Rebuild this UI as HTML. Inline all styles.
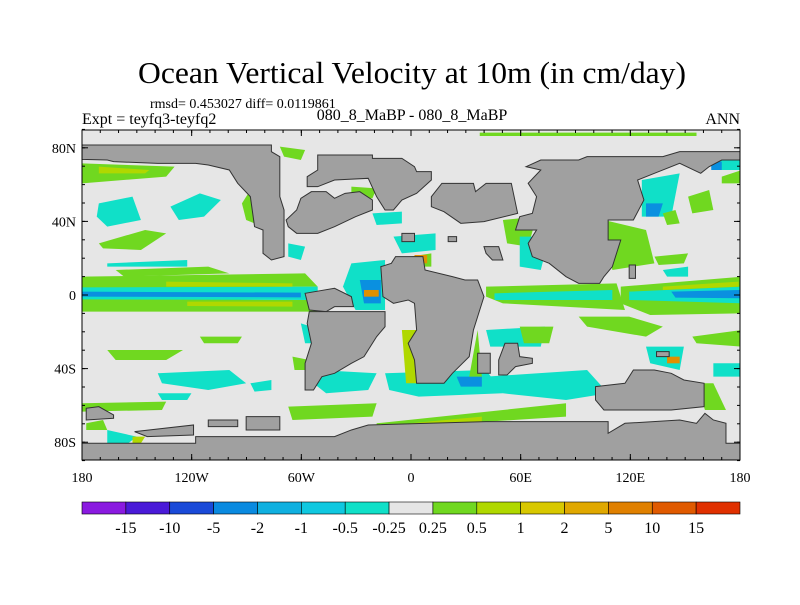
<!DOCTYPE html>
<html><head><meta charset="utf-8"><style>
body{margin:0;background:#fff;}
svg text{font-family:"Liberation Serif",serif;fill:#000;}
</style></head><body>
<svg id="chart" width="800" height="600" viewBox="0 0 800 600" xmlns="http://www.w3.org/2000/svg">
<text x="412" y="83" font-size="31" text-anchor="middle" textLength="548" lengthAdjust="spacingAndGlyphs">Ocean Vertical Velocity at 10m (in cm/day)</text>
<text x="150" y="108" font-size="14">rmsd= 0.453027 diff= 0.0119861</text>
<text x="82" y="124" font-size="16">Expt = teyfq3-teyfq2</text>
<text x="412" y="120" font-size="16" text-anchor="middle">080_8_MaBP - 080_8_MaBP</text>
<text x="740" y="124" font-size="16" text-anchor="end">ANN</text>
<clipPath id="pc"><rect x="82" y="130" width="658" height="330"/></clipPath>
<rect x="82" y="130" width="658" height="330" fill="#e6e6e6"/>
<g clip-path="url(#pc)">
<g transform="translate(82,130) scale(0.4209,0.3333)" id="mapg">
<g id="blobs"></g>
<g id="land"></g>
</g>
</g>
<rect x="82" y="130" width="658" height="330" fill="none" stroke="#000" stroke-width="1"/>
<g id="axes"></g>
<g id="cbar"></g>
</svg>
<script>
const cbColors=["#8a1ae0","#4a1ad8","#1a4ad8","#0a8ae0","#10b0e0","#10c8e0","#10e0c8","#e6e6e6","#70d820","#b0d800","#d8c800","#e0a800","#e08000","#e05a00","#e03000"];
const cbLabels=["-15","-10","-5","-2","-1","-0.5","-0.25","0.25","0.5","1","2","5","10","15"];
const lonTicks=[-180,-120,-60,0,60,120,180];
const lonLabels=["180","120W","60W","0","60E","120E","180"];
const latTicks=[80,40,0,-40,-80];
const latLabels=["80N","40N","0","40S","80S"];
const NS="http://www.w3.org/2000/svg";
function mk(t,a,p){const e=document.createElementNS(NS,t);for(const k in a)e.setAttribute(k,a[k]);p.appendChild(e);return e;}
const xLon=l=>82+(l+180)*658/360, yLat=l=>295-l*1.84;
const ax=document.getElementById('axes');
lonTicks.forEach((l,i)=>{
 const t=mk('line',{x1:xLon(l),x2:xLon(l),y1:460,y2:454,stroke:'#000'},ax);
 
 
 const t2=mk('line',{x1:xLon(l),x2:xLon(l),y1:130,y2:136,stroke:'#000'},ax);
 
 
 const tx=mk('text',{x:xLon(l),y:482,'font-size':14,'text-anchor':'middle'},ax);tx.textContent=lonLabels[i];
 
 
});
for(let l=-170;l<=170;l+=10){const t=mk('line',{x1:xLon(l),x2:xLon(l),y1:460,y2:457,stroke:'#000'},ax);
 
 
 const t2=mk('line',{x1:xLon(l),x2:xLon(l),y1:130,y2:133,stroke:'#000'},ax);
 
 }
latTicks.forEach((l,i)=>{
 const t=mk('line',{x1:82,x2:88,y1:yLat(l),y2:yLat(l),stroke:'#000'},ax);
 
 
 const t2=mk('line',{x1:734,x2:740,y1:yLat(l),y2:yLat(l),stroke:'#000'},ax);
 
 
 const tx=mk('text',{x:76,y:yLat(l)+5,'font-size':14,'text-anchor':'end'},ax);tx.textContent=latLabels[i];
 
 
});
for(let l=-90;l<=90;l+=10){const t=mk('line',{x1:82,x2:85,y1:yLat(l),y2:yLat(l),stroke:'#000'},ax);
 
 
 const t2=mk('line',{x1:737,x2:740,y1:yLat(l),y2:yLat(l),stroke:'#000'},ax);
 
 }
// colorbar
const cb=document.getElementById('cbar');const cbx=82,cbw=658/cbColors.length;
cbColors.forEach((c,i)=>{const r=mk('rect',{x:cbx+i*cbw,y:502,width:cbw,height:12,fill:c,stroke:'#000','stroke-width':0.6},cb);
 
 });
cbLabels.forEach((s,i)=>{const t=mk('text',{x:cbx+(i+1)*cbw,y:533,'font-size':16,'text-anchor':'middle'},cb);t.textContent=s;
 
 });
// blobs (zoom-space coordinates)
const G="#70d820",Y="#b0d800",YY="#d8c000",O="#e09000",C="#10e0c8",C2="#10c8e0",B="#0a90e0";
const blobs=[
[G,"M0,440 L530,430 L560,470 L0,475Z"],[G,"M0,505 L540,510 L560,545 L0,545Z"],[C,"M0,472 L560,470 L560,510 L0,508Z"],[B,"M0,485 L520,488 L520,502 L0,500Z"],
[Y,"M200,455 L500,460 L500,470 L200,470Z"],[Y,"M250,515 L500,515 L500,530 L250,528Z"],
[G,"M1280,470 L1568,440 L1568,550 L1350,555 L1280,520Z"],[C,"M1300,485 L1568,470 L1568,520 L1300,510Z"],[B,"M1400,485 L1568,480 L1568,505 L1410,503Z"],[Y,"M1380,470 L1560,455 L1560,470 L1380,480Z"],
[G,"M960,470 L1270,460 L1290,540 L1000,520 L960,500Z"],[C,"M980,490 L1260,480 L1260,510 L980,510Z"],
[G,"M0,100 L220,110 L200,140 L0,160Z"],[Y,"M40,110 L160,120 L150,130 L40,130Z"],
[C,"M40,220 L120,200 L140,270 L60,290 L35,260Z"],[C,"M210,230 L280,190 L330,210 L290,260 L230,270Z"],
[G,"M40,340 L150,300 L200,310 L140,360 L50,355Z"],[G,"M80,420 L300,410 L350,430 L100,440Z"],[C,"M60,400 L250,390 L250,410 L60,410Z"],
[C,"M180,730 L350,720 L390,760 L300,780 L190,760Z"],[C,"M400,760 L450,750 L450,780 L410,785Z"],[G,"M60,660 L240,660 L200,690 L80,690Z"],[G,"M280,620 L380,620 L370,640 L290,640Z"],
[C,"M560,720 L700,730 L680,780 L580,790 L550,760Z"],[C,"M720,730 L960,720 L1000,790 L800,800 L730,780Z"],[B,"M890,740 L950,740 L950,770 L900,770Z"],
[C,"M960,740 L1200,720 L1250,790 L1150,810 L1000,790Z"],[G,"M700,880 L1000,840 L1150,820 L1150,860 L900,880 L700,890Z"],[Y,"M780,880 L950,860 L950,875 L780,890Z"],
[G,"M1180,560 L1300,560 L1380,590 L1340,620 L1200,590Z"],[G,"M1450,620 L1568,600 L1568,650 L1460,640Z"],[C,"M1340,650 L1430,650 L1420,720 L1350,700Z"],[O,"M1390,680 L1420,680 L1420,700 L1390,700Z"],
[G,"M1460,760 L1500,760 L1530,840 L1480,840Z"],[C,"M1500,700 L1568,700 L1568,740 L1500,740Z"],
[C,"M640,400 L720,390 L720,540 L650,540 L620,470Z"],[B,"M660,450 L710,450 L710,520 L670,520Z"],[O,"M670,480 L705,480 L705,500 L670,500Z"],
[G,"M780,380 L830,370 L830,410 L790,410Z"],[O,"M790,375 L820,375 L820,400 L790,400Z"],[C,"M740,320 L840,310 L840,360 L760,370Z"],
[G,"M920,740 L940,600 L950,740Z"],[Y,"M760,600 L800,600 L800,760 L770,760Z"],
[G,"M1000,270 L1080,260 L1060,350 L1010,340Z"],[C,"M1040,320 L1110,320 L1090,420 L1040,410Z"],
[G,"M1240,270 L1340,300 L1360,400 L1260,420Z"],[C,"M1330,150 L1420,130 L1400,260 L1330,260Z"],[B,"M1340,220 L1380,220 L1370,260 L1340,260Z"],[G,"M1380,250 L1410,240 L1420,280 L1390,285Z"],
[C,"M1490,90 L1568,85 L1568,120 L1500,120Z"],[B,"M1495,95 L1520,95 L1520,120 L1495,120Z"],[G,"M1520,140 L1568,120 L1568,160 L1520,160Z"],[G,"M945,8 L1460,8 L1460,18 L945,18Z"],
[G,"M400,180 L420,250 L410,280 L390,270 L380,220Z"],[G,"M470,50 L530,60 L520,90 L480,80Z"],[C,"M490,340 L530,350 L520,390 L490,380Z"],
[C,"M520,580 L545,590 L560,640 L530,640Z"],[G,"M500,680 L540,690 L530,720 L505,720Z"],
[C,"M60,900 L130,920 L110,940 L60,940Z"],[G,"M10,880 L50,870 L60,900 L10,900Z"],[Y,"M120,920 L150,920 L140,940 L120,940Z"],
[G,"M490,830 L700,820 L690,860 L500,870Z"],[G,"M0,820 L200,815 L190,840 L0,845Z"],[C,"M960,600 L1100,590 L1090,650 L970,650Z"],[G,"M1040,590 L1120,590 L1110,640 L1050,640Z"],
[G,"M640,170 L700,175 L690,205 L640,200Z"],[C,"M690,250 L760,245 L760,280 L700,285Z"],[C,"M180,790 L260,790 L250,810 L190,810Z"],
[G,"M1360,380 L1440,370 L1430,400 L1370,405Z"],[C,"M1380,420 L1440,410 L1440,440 L1390,440Z"],[G,"M1440,200 L1490,180 L1500,240 L1450,250Z"]
];
const bg=document.getElementById('blobs');
blobs.forEach(b=>{const p=mk('path',{d:b[1],fill:b[0]},bg);
 
 });
// land
const lands=[
"0,45 450,45 450,65 470,80 470,200 480,240 480,380 450,390 430,370 430,300 410,290 400,200 370,160 350,120 300,105 270,100 180,100 75,95 60,90 0,88",
"560,75 690,75 690,85 760,85 790,110 795,125 830,125 830,150 795,190 760,210 740,240 720,240 700,200 680,145 600,150 560,170 535,170 535,140 560,120",
"545,185 580,185 600,205 625,190 660,185 690,210 690,240 650,260 600,290 560,310 510,310 490,290 485,270 510,240 520,205",
"855,160 930,160 935,185 960,160 1020,160 1035,250 955,275 900,280 860,245 830,230 830,200",
"1090,90 1180,90 1200,80 1380,80 1420,65 1568,65 1568,90 1520,90 1490,110 1470,130 1420,100 1360,130 1320,150 1335,210 1310,270 1250,270 1250,330 1280,330 1260,410 1240,440 1230,460 1180,460 1150,440 1110,400 1070,380 1060,340 1080,300 1030,300 1040,260 1070,250 1080,200 1060,160 1090,120 1055,110",
"745,380 810,380 815,420 880,440 910,450 940,450 955,500 940,560 930,600 920,680 880,730 860,760 795,760 790,690 775,640 795,600 790,520 775,510 740,520 715,500 710,410 735,400",
"530,490 600,475 640,500 645,530 600,530 580,545 540,540",
"540,545 720,545 720,590 700,620 670,680 640,700 600,730 570,740 550,780 530,780 530,700 545,640 535,580",
"760,310 790,310 790,335 760,335","870,320 890,320 890,335 870,335","955,350 990,350 1000,390 975,390 960,370",
"940,670 970,670 970,730 940,730","1005,640 1035,640 1040,680 1070,685 1070,700 1030,710 1010,735 990,735 990,690",
"1220,770 1290,760 1310,720 1360,720 1400,730 1430,750 1478,760 1478,830 1400,840 1240,840 1220,810",
"0,940 270,940 270,920 340,920 600,920 640,900 680,885 960,875 1250,875 1250,910 1290,880 1420,870 1460,880 1480,850 1500,870 1530,880 1530,940 1568,940 1568,990 0,990",
"125,905 265,885 265,915 155,920","390,860 470,860 470,900 390,900","300,870 370,870 370,890 300,890",
"10,835 40,830 75,855 75,865 10,870","1365,665 1395,665 1395,680 1365,680","1300,405 1315,405 1315,445 1300,445"
];
const lg=document.getElementById('land');
lands.forEach(s=>{const p=mk('polygon',{points:s,fill:'#a0a0a0',stroke:'#333','stroke-width':1,'vector-effect':'non-scaling-stroke'},lg);
 
 });
</script>
</body></html>
